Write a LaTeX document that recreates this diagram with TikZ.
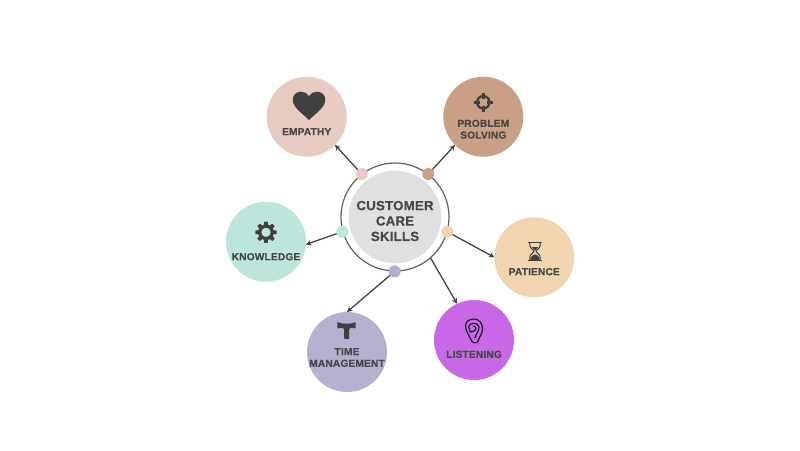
\documentclass[tikz,border=0pt]{standalone}
\usepackage{fontspec}
\setmainfont{Liberation Sans}[LetterSpace=1.4,BoldFeatures={FakeBold=0.4}]
\usetikzlibrary{arrows.meta}
\definecolor{ink}{HTML}{404040}
\definecolor{txt}{HTML}{484848}
\definecolor{cEmp}{HTML}{E8CCC2}
\definecolor{cPro}{HTML}{C99F85}
\definecolor{cPat}{HTML}{F0D5B0}
\definecolor{cLis}{HTML}{C868E6}
\definecolor{cTim}{HTML}{B3B0D0}
\definecolor{cKno}{HTML}{BCE6DB}
\tikzset{
  x=1pt,y=-1pt,
  skill/.style={circle,minimum size=80pt,inner sep=0pt,outer sep=0pt,fill=#1},
  dot/.style={circle,minimum size=12pt,inner sep=0pt,outer sep=0pt,fill=#1},
  lab/.style={font=\fontsize{10.2}{11.7}\selectfont\bfseries,text=txt,align=center,inner sep=0pt},
  conn/.style={draw=ink,line width=1.25pt,-{Stealth[length=5.5pt,width=5.5pt]}},
  icon/.style={fill=ink,draw=none}
}
\begin{document}
\begin{tikzpicture}
\useasboundingbox (0,0) rectangle (800,450);
\fill[white] (0,0) rectangle (800,450);
% centre
\node[circle,minimum size=92.6pt,inner sep=0pt,fill=black!12] (core) at (395,217) {};
\node[circle,minimum size=108pt,inner sep=0pt,outer sep=0pt,draw=black!62,line width=1.2pt] (ring) at (395,217) {};
\node[lab,font=\fontsize{13.3}{15.4}\selectfont\bfseries] (title) at (395,221) {CUSTOMER\\CARE\\SKILLS};
% skills
\node[skill=cEmp] (emp) at (306.7,116.7) {};
\node[skill=cPro] (pro) at (483.3,116.7) {};
\node[skill=cPat] (pat) at (534.3,257.3) {};
\node[skill=cLis] (lis) at (474,340) {};
\node[skill=cTim] (tim) at (347,352) {};
\node[skill=cKno] (kno) at (266,241.7) {};
% dots
\node[dot=cEmp] (dEmp) at (361.7,174) {};
\node[dot=cPro] (dPro) at (428.3,174) {};
\node[dot=cPat] (dPat) at (447.3,231.7) {};
\node[dot=cKno] (dKno) at (342.3,231.7) {};
\node[dot=cTim] (dTim) at (394.7,271.3) {};
% connectors
\draw[conn] (dEmp) -- (emp.-45);
\draw[conn] (dPro) -- (pro.225);
\draw[conn] (dPat) -- (pat.west);
\draw[conn] (ring.-49) -- (lis.115);
\draw[conn] (dTim) -- (tim.north);
\draw[conn] (dKno) -- (kno.-4);
% labels
\node[lab] (lEmp) at (306.7,131.7) {EMPATHY};
\node[lab] (lPro) at (483.3,129.2) {PROBLEM\\SOLVING};
\node[lab] (lPat) at (534.3,271.7) {PATIENCE};
\node[lab] (lLis) at (474,354.3) {LISTENING};
\node[lab] (lTim) at (347,357.5) {TIME\\MANAGEMENT};
\node[lab] (lKno) at (266,256.7) {KNOWLEDGE};
% heart
\fill[icon] (309,120) .. controls (303,114) and (292.7,107.5) .. (292.7,99.8)
  .. controls (292.7,94.8) and (296.5,91.7) .. (300.8,91.7)
  .. controls (304,91.7) and (307.5,93) .. (309,96)
  .. controls (310.5,93) and (314,91.7) .. (317.2,91.7)
  .. controls (321.5,91.7) and (325.3,94.8) .. (325.3,99.8)
  .. controls (325.3,107.5) and (315,114) .. (309,120) -- cycle;
% target
\begin{scope}[shift={(483.3,102.3)}]
  \draw[ink,line width=2.3pt] (0,0) circle (6.2);
  \fill[icon] (-1.2,-9.6) rectangle (1.2,-3.4);
  \fill[icon] (-1.2,3.4) rectangle (1.2,9.6);
  \fill[icon] (-9.6,-1.2) rectangle (-3.4,1.2);
  \fill[icon] (3.4,-1.2) rectangle (9.6,1.2);
\end{scope}
% gear
\begin{scope}[shift={(266,232.3)}]
  \foreach \a in {0,45,...,315}{
    \fill[icon,rotate=\a] (-2.2,-7) -- (-1.7,-10.6) -- (1.7,-10.6) -- (2.2,-7) -- cycle;
  }
  \draw[ink,line width=3.2pt] (0,0) circle (6.2);
\end{scope}
% hourglass
\begin{scope}[shift={(535,251.3)}]
  \fill[icon] (-6.7,-9.7) rectangle (6.7,-8.3);
  \fill[icon] (-6.7,8.3) rectangle (6.7,9.7);
  \draw[ink,line width=1pt] (-5.2,-8.5) -- (-5.2,-6) .. controls (-5.2,-3) and (-1.2,-1.5) .. (-1.2,0)
     .. controls (-1.2,1.5) and (-5.2,3) .. (-5.2,6) -- (-5.2,8.5);
  \draw[ink,line width=1pt] (5.2,-8.5) -- (5.2,-6) .. controls (5.2,-3) and (1.2,-1.5) .. (1.2,0)
     .. controls (1.2,1.5) and (5.2,3) .. (5.2,6) -- (5.2,8.5);
  \fill[icon] (-3.2,-4.2) -- (3.2,-4.2) -- (0,-.5) -- cycle;
  \fill[icon] (-4.6,8.5) .. controls (-4.2,5) and (-2,3) .. (0,3) .. controls (2,3) and (4.2,5) .. (4.6,8.5) -- cycle;
\end{scope}
% ear
\begin{scope}[shift={(474,331)},line width=1.15pt,draw=black!85!cLis]
  \draw (-2,10.5) .. controls (-4,6) and (-8.5,0) .. (-8.5,-5) .. controls (-8.5,-10) and (-4,-12) .. (0,-12)
     .. controls (5,-12) and (8.5,-8) .. (8.5,-2) .. controls (8.5,3) and (5,6) .. (4.5,9)
     .. controls (4,12) and (0,13) .. (-2,10.5) -- cycle;
  \draw (-5.5,-4) .. controls (-5.5,-8.5) and (4,-9.5) .. (5,-4) .. controls (5.5,0) and (1.5,3) .. (1,7);
  \draw (-5.5,-4) .. controls (-4,-2.5) and (-4,-1) .. (-4,1);
  \draw (-1,-5) .. controls (2.5,-5) and (2.5,-1) .. (0,0) .. controls (-1.5,0.5) and (-3,1) .. (-4,1);
\end{scope}
% T tool
\fill[icon,rounded corners=.7pt] (337.3,322) -- (342,323.5) -- (351,323.5) -- (355.7,322) -- (355.7,328.5)
  -- (351,327.6) -- (349.2,329.2) -- (349.2,339) -- (344.2,339) -- (344.2,329.2) -- (342.4,327.6) -- (337.3,328.5) -- cycle;
\end{tikzpicture}
\end{document}
